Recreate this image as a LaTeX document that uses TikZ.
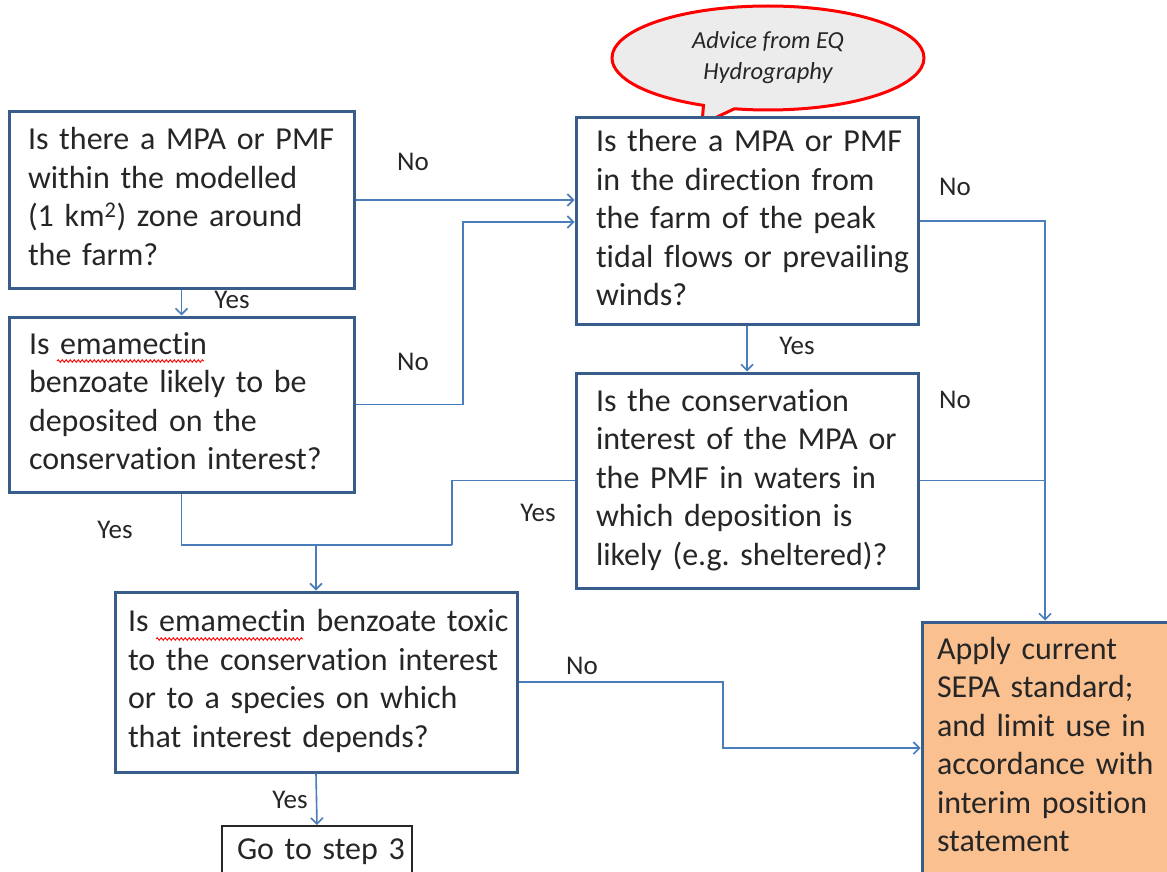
\documentclass[tikz,border=0pt]{standalone}
\usepackage{fontspec}
\setmainfont{Carlito}[Ligatures=NoCommon]
\frenchspacing
\usetikzlibrary{arrows.meta,shapes.callouts,shapes.geometric,decorations.pathmorphing}
\definecolor{boxblue}{HTML}{385D8A}
\definecolor{linkblue}{HTML}{4A7EBB}
\definecolor{orangefill}{HTML}{FAC090}
\definecolor{txt}{HTML}{262626}
\definecolor{bubble}{HTML}{ECECEC}
\newcommand\txtlines[1]{\begin{tabular}[c]{@{}l@{}}#1\end{tabular}}
\tikzset{
  qbox/.style={draw=boxblue, line width=3pt, fill=white, text=txt,
    font=\fontsize{32}{38.5}\selectfont, align=left, inner ysep=0pt},
  lab/.style={text=txt, font=\fontsize{27}{30}\selectfont, inner sep=0pt},
  ln/.style={draw=linkblue, line width=1.6pt},
  arr/.style={ln, -{Straight Barb[length=6pt,width=12pt,line width=1.6pt]}},
  spell/.style={draw=red, line width=0.9pt, decorate,
    decoration={snake, amplitude=1.3pt, segment length=4pt}},
}
\begin{document}
\begin{tikzpicture}[x=1pt,y=-1pt]
\useasboundingbox (0,0) rectangle (1167,872);
\fill[white] (0,0) rectangle (1167,872);
\clip (0,0) rectangle (1167,872);

% callout
\node[ellipse callout, draw=red, line width=3pt, fill=bubble, text=txt,
  minimum width=312pt, minimum height=104pt, inner sep=0pt,
  callout absolute pointer={(702,124)}, callout pointer arc=12,
  font=\itshape\fontsize{24.5}{31}\selectfont, align=center] (advice) at (768,58)
  {Advice from EQ\\Hydrography};

% boxes
\node[qbox, inner xsep=19pt, text width=307pt, minimum height=176pt] (A) at (181.5,200)
  {\txtlines{Is there a MPA or PMF\\within the modelled\\(1 km\textsuperscript{2}) zone around\\the farm?}};
\node[qbox, inner xsep=20pt, text width=305pt, minimum height=175pt] (B) at (181.5,404.5)
  {\txtlines{Is emamectin\\benzoate likely to be\\deposited on the\\conservation interest?}};
\node[qbox, inner xsep=20pt, text width=302pt, minimum height=206pt] (C) at (747,221)
  {\txtlines{Is there a MPA or PMF\\in the direction from\\the farm of the peak\\tidal flows or prevailing\\winds?}};
\node[qbox, inner xsep=20pt, text width=302pt, minimum height=215pt] (D) at (747,480.5)
  {\txtlines{Is the conservation\\interest of the MPA or\\the PMF in waters in\\which deposition is\\likely (e.g. sheltered)?}};
\node[qbox, inner xsep=13pt, text width=376pt, minimum height=180pt] (E) at (316,682)
  {\txtlines{Is emamectin benzoate toxic\\to the conservation interest\\or to a species on which\\that interest depends?}};
\node[qbox, draw=black!85, line width=2pt, inner xsep=15pt, text width=160pt, minimum height=52pt] (F) at (317,852)
  {\txtlines{Go to step 3}};
\node[qbox, fill=orangefill, inner xsep=15pt, text width=232pt, minimum height=252pt] (G) at (1053,748)
  {\txtlines{Apply current\\SEPA standard;\\and limit use in\\accordance with\\interim position\\statement}};

% spell-check underlines
\draw[spell] (57,361) -- (204,361);
\draw[spell] (156,639) -- (303,639);

% junction coordinates
\coordinate (jn) at (463,222);
\coordinate (mj) at (452,545);
\coordinate (rj) at (1045,0);
\coordinate (ej) at (723,0);

% connectors
\draw[arr] (A.east) -- (A.east -| C.west);
\draw[arr] (B.east) -| (jn) -- (jn -| C.west);
\draw[arr] (A.south) -- (B.north);
\draw[ln] (B.south) |- (mj);
\draw[ln] (D.west) -| (mj);
\draw[arr] (E.north |- mj) -- (E.north);
\draw[arr] (C.south) -- (D.north);
\draw[arr] (C.east) -| (rj |- G.north);
\draw[ln] (D.east) -- (D.east -| rj);
\draw[arr] (E.east) -| (ej |- G.west) -- (G.west);
\draw[arr] (E.south) -- (F.north);

% labels
\node[lab] (l1) at (413,162) {No};
\node[lab] (l2) at (413,362) {No};
\node[lab] (l3) at (232,300) {Yes};
\node[lab] (l4) at (115,530) {Yes};
\node[lab] (l5) at (538,513) {Yes};
\node[lab] (l6) at (797,346) {Yes};
\node[lab] (l7) at (955,187) {No};
\node[lab] (l8) at (955,400) {No};
\node[lab] (l9) at (582,666) {No};
\node[lab] (l10) at (290,800) {Yes};
\end{tikzpicture}
\end{document}
